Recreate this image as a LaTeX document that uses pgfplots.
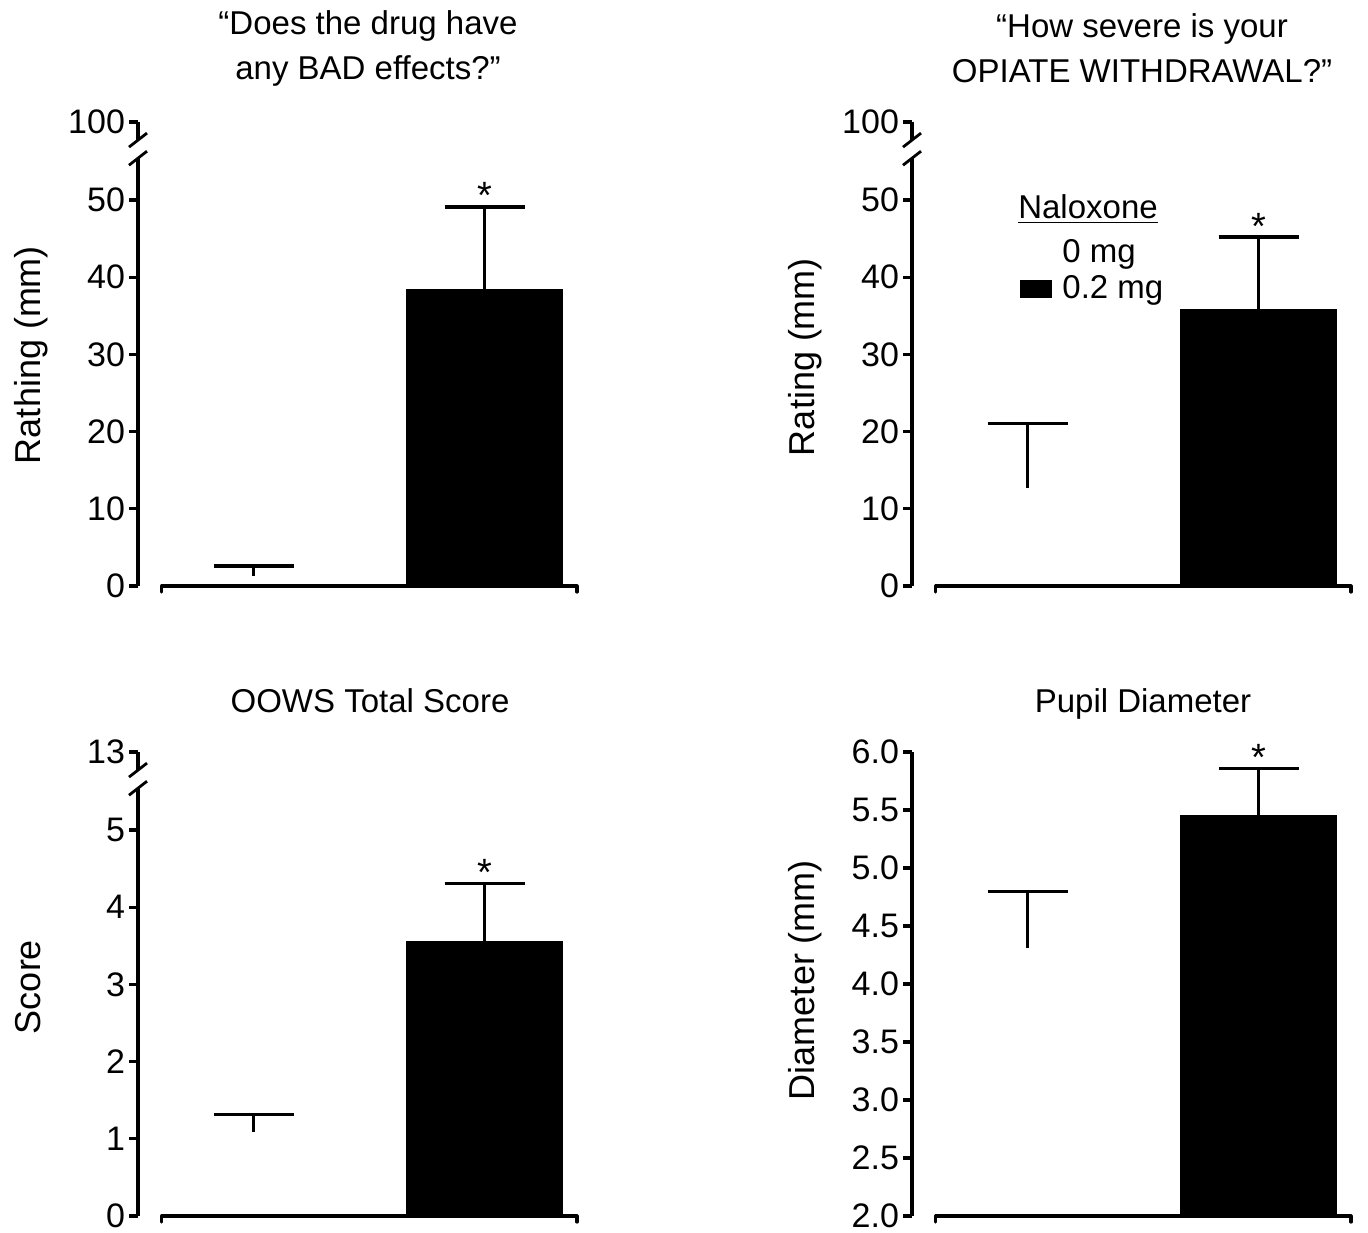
\documentclass[border=0pt]{standalone}
\usepackage{pgfplots}
\pgfplotsset{compat=1.18}
\usepackage{fontspec}
\setmainfont{Liberation Sans}
\newcommand\fs{\fontsize{16.5}{22.5}\selectfont}
\newcommand\ft{\fontsize{17}{20}\selectfont}
\newcommand\fl{\fontsize{18}{22}\selectfont}
\newcommand\fa{\fontsize{19}{22}\selectfont}

\pgfplotsset{
  panel/.style={
    scale only axis, width=219.5pt, height=232pt,
    xmin=-0.5, xmax=1.40,
    axis x line=none,
    axis y line*=left,
    y axis line style={draw=none},
    xtick=\empty,
    tick align=outside,
    major tick length=4.5pt,
    ytick style={line width=1.6pt, black},
    yticklabel style={font=\ft, xshift=1.5pt},
    /pgf/number format/assume math mode=true,
    clip mode=individual,
  },
  whitebar/.style={ybar, bar width=78.5pt, bar shift=0pt, fill=white, draw=none,
    error bars/.cd, y dir=plus, y explicit, error mark=|,
    error bar style={line width=1.6pt, draw=black},
    error mark options={line width=1.6pt, mark size=20pt, draw=black}},
  blackbar/.style={ybar, bar width=78.5pt, bar shift=0pt, fill=black, draw=none,
    error bars/.cd, y dir=plus, y explicit, error mark=|,
    error bar style={line width=1.6pt, draw=black},
    error mark options={line width=1.6pt, mark size=20pt, draw=black}},
}
\newcommand\xaxisline[1]{%
  \draw[line width=1.6pt, line cap=round, line join=round]
    (axis cs:-0.397,#1) ++(0pt,-3pt) -- (axis cs:-0.397,#1) -- (axis cs:1.40,#1) -- ++(0pt,-3pt);}
\newcommand\brokenyaxis{%
  \draw[line width=1.6pt] (rel axis cs:0,0) -- (rel axis cs:0,0.922);
  \draw[line width=1.6pt] (rel axis cs:0,1) -- (rel axis cs:0,0.961);
  \draw[line width=1.4pt] (rel axis cs:0,0.961) ++(-4.5pt,-3.5pt) -- ++(9pt,7pt);
  \draw[line width=1.4pt] (rel axis cs:0,0.922) ++(-4.5pt,-3.5pt) -- ++(9pt,7pt);}
\newcommand\sigstar[1]{\node[anchor=base, inner sep=0, font=\fa, yshift=-1pt] at (axis cs:1,#1) {*};}

\begin{document}
\begin{tikzpicture}
\path[use as bounding box] (0,0) rectangle (684pt,616pt);

% Panel 1
\begin{axis}[panel, at={(69pt,323pt)}, anchor=south west,
  ymin=0, ymax=60.1, ytick={0,10,20,30,40,50,60.1},
  yticklabels={0,10,20,30,40,50,100}]
\addplot[whitebar] coordinates {(0,1.3) +- (0,1.3)};
\addplot[blackbar] coordinates {(1,38.5) +- (0,10.6)};
\xaxisline{0}
\brokenyaxis
\sigstar{49.1}
\end{axis}

% Panel 2
\begin{axis}[panel, at={(456pt,323pt)}, anchor=south west,
  ymin=0, ymax=60.1, ytick={0,10,20,30,40,50,60.1},
  yticklabels={0,10,20,30,40,50,100}]
\addplot[whitebar] coordinates {(0,12.7) +- (0,8.3)};
\addplot[blackbar] coordinates {(1,35.9) +- (0,9.3)};
\xaxisline{0}
\brokenyaxis
\sigstar{45.2}
\end{axis}

% Panel 3
\begin{axis}[panel, at={(69pt,8pt)}, anchor=south west,
  ymin=0, ymax=6.01, ytick={0,1,2,3,4,5,6.01},
  yticklabels={0,1,2,3,4,5,13}]
\addplot[whitebar] coordinates {(0,1.09) +- (0,0.22)};
\addplot[blackbar] coordinates {(1,3.56) +- (0,0.75)};
\xaxisline{0}
\brokenyaxis
\sigstar{4.31}
\end{axis}

% Panel 4
\begin{axis}[panel, at={(456pt,8pt)}, anchor=south west,
  ymin=2, ymax=6, ytick={2,2.5,...,6},
  yticklabel style={/pgf/number format/.cd, fixed, fixed zerofill, precision=1}]
\addplot[whitebar] coordinates {(0,4.31) +- (0,0.49)};
\addplot[blackbar] coordinates {(1,5.46) +- (0,0.40)};
\xaxisline{2}
\draw[line width=1.6pt] (rel axis cs:0,0) -- (rel axis cs:0,1);
\sigstar{5.86}
\end{axis}

\begin{scope}[x=0.5pt, y=-0.5pt, yshift=616pt]
% titles
\node[align=center, font=\fs] at (368,48) {“Does the drug have\\any BAD effects?”};
\node[align=center, font=\fs] at (1142,48) {“How severe is your\\OPIATE WITHDRAWAL?”};
\node[anchor=base, font=\fs] at (370,712) {OOWS Total Score};
\node[anchor=base, font=\fs] at (1143,712) {Pupil Diameter};
% y labels
\node[anchor=base, rotate=90, font=\fl] at (40,355) {Rathing (mm)};
\node[anchor=base, rotate=90, font=\fl] at (814,357) {Rating (mm)};
\node[anchor=base, rotate=90, font=\fl] at (40,987) {Score};
\node[anchor=base, rotate=90, font=\fl] at (814,980) {Diameter (mm)};
% legend
\node[anchor=base, font=\fs] at (1088,219) {\underline{Naloxone}};
\node[anchor=base west, font=\fs, inner sep=0] at (1062,263) {0 mg};
\node[anchor=base west, font=\fs, inner sep=0] at (1062,299) {0.2 mg};
\fill[black] (1020,280) rectangle (1052,298);
\end{scope}
\end{tikzpicture}
\end{document}
